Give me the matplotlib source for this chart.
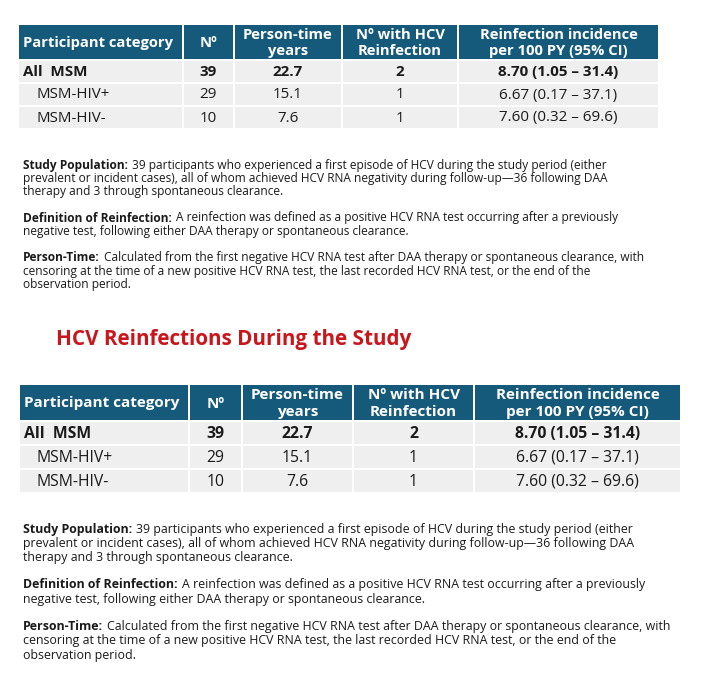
import matplotlib
matplotlib.use("Agg")
import matplotlib.pyplot as plt
from matplotlib.patches import Rectangle

plt.rcParams["font.family"] = ["Open Sans", "DejaVu Sans"]

# ---------------------------------------------------------------------------
# Data
# ---------------------------------------------------------------------------

headers = ["Participant category", "N\u00ba", "Person-time\nyears",
           "N\u00ba with HCV\nReinfection", "Reinfection incidence\nper 100 PY (95% CI)"]
categories = ["All  MSM", "MSM-HIV+", "MSM-HIV-"]
n_participants = [39, 29, 10]
person_time = [22.7, 15.1, 7.6]
n_reinfected = [2, 1, 1]
incidence = [8.70, 6.67, 7.60]
ci_low = [1.05, 0.17, 0.32]
ci_high = [31.4, 37.1, 69.6]

title = "HCV Reinfections During the Study"
notes = [
    ("Study Population:",
     ["39 participants who experienced a first episode of HCV during the study period (either",
      "prevalent or incident cases), all of whom achieved HCV RNA negativity during follow-up\u201436 following DAA",
      "therapy and 3 through spontaneous clearance."]),
    ("Definition of Reinfection:",
     ["A reinfection was defined as a positive HCV RNA test occurring after a previously",
      "negative test, following either DAA therapy or spontaneous clearance."]),
    ("Person-Time:",
     ["Calculated from the first negative HCV RNA test after DAA therapy or spontaneous clearance, with",
      "censoring at the time of a new positive HCV RNA test, the last recorded HCV RNA test, or the end of the",
      "observation period."]),
]

HEADER_BG = "#165a7b"
CELL_BG = "#efefef"
TEXT = "#1a1a1a"
TITLE_RED = "#c8161d"

W, H = 708, 679
fig = plt.figure(figsize=(W / 100, H / 100), dpi=100)
ax = fig.add_axes([0, 0, 1, 1])
ax.set_xlim(0, W)
ax.set_ylim(H, 0)
ax.axis("off")
renderer = fig.canvas.get_renderer()


def draw_table(x0, y0, col_w, head_h, row_h, fs_head, fs_body):
    edges = [x0]
    for w in col_w:
        edges.append(edges[-1] + w)

    # header
    for j, label in enumerate(headers):
        ax.add_patch(Rectangle((edges[j] + 1, y0), col_w[j] - 2, head_h,
                               facecolor=HEADER_BG, edgecolor="none"))
        if j == 0:
            ax.text(edges[j] + 5, y0 + head_h / 2 + 1, label, color="white",
                    fontsize=fs_head, fontweight="bold", ha="left", va="center")
        else:
            ax.text((edges[j] + edges[j + 1]) / 2, y0 + head_h / 2 + 1, label,
                    color="white", fontsize=fs_head, fontweight="bold", ha="center",
                    va="center", linespacing=1.2)

    # body
    for i, cat in enumerate(categories):
        top = y0 + head_h + i * row_h
        cells = [cat, f"{n_participants[i]}", f"{person_time[i]:.1f}",
                 f"{n_reinfected[i]}",
                 f"{incidence[i]:.2f} ({ci_low[i]:.2f} \u2013 {ci_high[i]:.1f})"]
        bold = i == 0
        for j, val in enumerate(cells):
            ax.add_patch(Rectangle((edges[j] + 1, top + 2), col_w[j] - 2, row_h - 2,
                                   facecolor=CELL_BG, edgecolor="none"))
            yc = top + row_h / 2 + 1.5
            weight = "bold" if bold else "normal"
            if j == 0:
                xl = edges[j] + (5 if bold else 18)
                ax.text(xl, yc, val, color=TEXT, fontsize=fs_body,
                        fontweight=weight, ha="left", va="center")
            else:
                ax.text((edges[j] + edges[j + 1]) / 2, yc, val, color=TEXT,
                        fontsize=fs_body, fontweight=weight, ha="center", va="center")


def draw_notes(x0, y0, line_h, para_gap, fs):
    y = y0
    for label, lines in notes:
        t = ax.text(x0, y, label, color=TEXT, fontsize=fs, fontweight="bold",
                    ha="left", va="center")
        bb = t.get_window_extent(renderer=renderer)
        ax.text(x0 + bb.width + 4, y, lines[0], color=TEXT, fontsize=fs,
                ha="left", va="center")
        for k, line in enumerate(lines[1:], start=1):
            ax.text(x0, y + k * line_h, line, color=TEXT, fontsize=fs,
                    ha="left", va="center")
        y += len(lines) * line_h + para_gap


# first copy
draw_table(18, 25, [165, 51, 108, 116, 201], 34, 23, 10.6, 10.9)
draw_notes(23, 165, 13.5, 12.5, 8.6)

# titled copy
ax.text(56, 339, title, color=TITLE_RED, fontsize=14.9, fontweight="bold",
        ha="left", va="center")
draw_table(19, 385, [170, 53, 111, 121, 207], 35, 24, 11.0, 11.3)
draw_notes(23, 529, 14.3, 13, 8.9)

fig.savefig("out.png", dpi=100, facecolor="white")
